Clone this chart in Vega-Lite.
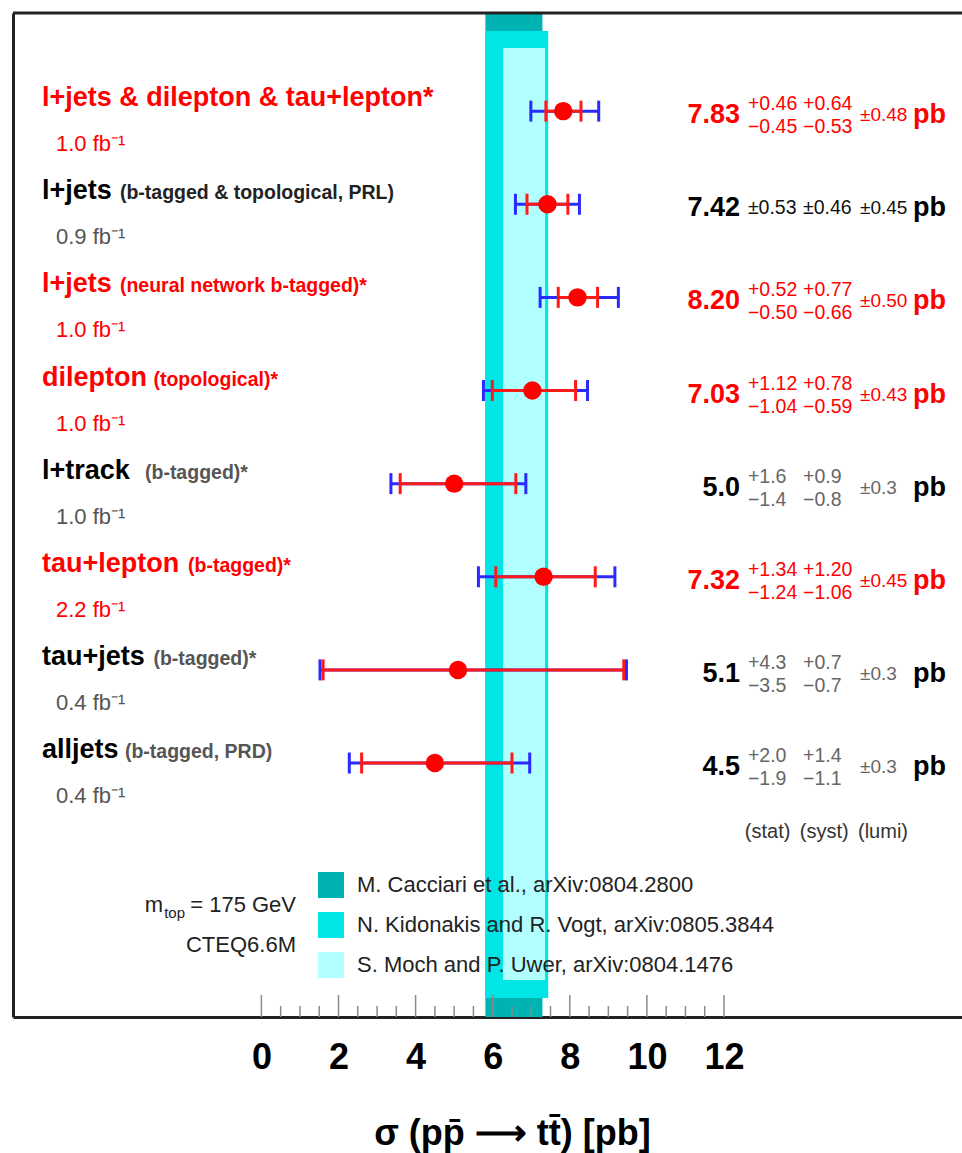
{
  "$schema": "https://vega.github.io/schema/vega-lite/v6.json",
  "width": 949,
  "height": 1004,
  "autosize": {"type": "none"},
  "padding": {"left": 13, "top": 13, "right": 0, "bottom": 136},
  "background": "white",
  "config": {
    "view": {"stroke": null},
    "font": "Liberation Sans",
    "axis": {"grid": false},
    "axisX": {"ticks": false, "tickSize": 0, "domain": true, "domainColor": "#222", "domainWidth": 3,
      "labelFont": "Liberation Sans", "labelFontWeight": "bold", "labelFontSize": 36, "labelColor": "#000", "labelBaseline": "alphabetic", "labelPadding": 51,
      "titleFont": "Liberation Sans", "titleFontWeight": "bold", "titleFontSize": 36, "titleColor": "#000",
      "titleX": 499, "titleY": 127, "titleBaseline": "alphabetic", "titleAlign": "center", "titleAnchor": "start"},
    "axisY": {"labels": false, "ticks": false, "tickSize": 0, "domain": true, "domainColor": "#222", "domainWidth": 3, "titleOpacity": 0}
  },
  "datasets": {
    "rows": [
      {"idx": 1, "hl": "yes", "label": "l+jets & dilepton & tau+lepton*", "detail": "", "lumi": "1.0 fb⁻¹", "val": "7.83", "s_up": "+0.46", "s_dn": "−0.45", "y_up": "+0.64", "y_dn": "−0.53", "s_sym": "", "y_sym": "", "l_err": "±0.48", "sigma": 7.83, "stat_lo": 7.38, "stat_hi": 8.29, "tot_lo": 6.99, "tot_hi": 8.75},
      {"idx": 2, "hl": "no", "label": "l+jets", "detail": "(b-tagged & topological, PRL)", "lumi": "0.9 fb⁻¹", "val": "7.42", "s_up": "", "s_dn": "", "y_up": "", "y_dn": "", "s_sym": "±0.53", "y_sym": "±0.46", "l_err": "±0.45", "sigma": 7.42, "stat_lo": 6.89, "stat_hi": 7.95, "tot_lo": 6.59, "tot_hi": 8.25},
      {"idx": 3, "hl": "yes", "label": "l+jets", "detail": "(neural network b-tagged)*", "lumi": "1.0 fb⁻¹", "val": "8.20", "s_up": "+0.52", "s_dn": "−0.50", "y_up": "+0.77", "y_dn": "−0.66", "s_sym": "", "y_sym": "", "l_err": "±0.50", "sigma": 8.2, "stat_lo": 7.7, "stat_hi": 8.72, "tot_lo": 7.23, "tot_hi": 9.26},
      {"idx": 4, "hl": "yes", "label": "dilepton", "detail": "(topological)*", "lumi": "1.0 fb⁻¹", "val": "7.03", "s_up": "+1.12", "s_dn": "−1.04", "y_up": "+0.78", "y_dn": "−0.59", "s_sym": "", "y_sym": "", "l_err": "±0.43", "sigma": 7.03, "stat_lo": 5.99, "stat_hi": 8.15, "tot_lo": 5.76, "tot_hi": 8.46},
      {"idx": 5, "hl": "no", "label": "l+track", "detail": "(b-tagged)*", "lumi": "1.0 fb⁻¹", "val": "5.0", "s_up": "+1.6", "s_dn": "−1.4", "y_up": "+0.9", "y_dn": "−0.8", "s_sym": "", "y_sym": "", "l_err": "±0.3", "sigma": 5.0, "stat_lo": 3.6, "stat_hi": 6.6, "tot_lo": 3.36, "tot_hi": 6.86},
      {"idx": 6, "hl": "yes", "label": "tau+lepton", "detail": "(b-tagged)*", "lumi": "2.2 fb⁻¹", "val": "7.32", "s_up": "+1.34", "s_dn": "−1.24", "y_up": "+1.20", "y_dn": "−1.06", "s_sym": "", "y_sym": "", "l_err": "±0.45", "sigma": 7.32, "stat_lo": 6.08, "stat_hi": 8.66, "tot_lo": 5.63, "tot_hi": 9.17},
      {"idx": 7, "hl": "no", "label": "tau+jets", "detail": "(b-tagged)*", "lumi": "0.4 fb⁻¹", "val": "5.1", "s_up": "+4.3", "s_dn": "−3.5", "y_up": "+0.7", "y_dn": "−0.7", "s_sym": "", "y_sym": "", "l_err": "±0.3", "sigma": 5.1, "stat_lo": 1.6, "stat_hi": 9.4, "tot_lo": 1.52, "tot_hi": 9.47},
      {"idx": 8, "hl": "no", "label": "alljets", "detail": "(b-tagged, PRD)", "lumi": "0.4 fb⁻¹", "val": "4.5", "s_up": "+2.0", "s_dn": "−1.9", "y_up": "+1.4", "y_dn": "−1.1", "s_sym": "", "y_sym": "", "l_err": "±0.3", "sigma": 4.5, "stat_lo": 2.6, "stat_hi": 6.5, "tot_lo": 2.28, "tot_hi": 6.96}
    ],
    "theory": [
      {"theory": "M. Cacciari et al., arXiv:0804.2800", "lo": 5.81, "hi": 7.29},
      {"theory": "N. Kidonakis and R. Vogt, arXiv:0805.3844", "lo": 5.81, "hi": 7.44},
      {"theory": "S. Moch and P. Uwer, arXiv:0804.1476", "lo": 6.27, "hi": 7.36}
    ],
    "ticks": [
      {"v": 0, "kind": "major"}, {"v": 0.5, "kind": "minor"}, {"v": 1, "kind": "minor"}, {"v": 1.5, "kind": "minor"},
      {"v": 2, "kind": "major"}, {"v": 2.5, "kind": "minor"}, {"v": 3, "kind": "minor"}, {"v": 3.5, "kind": "minor"},
      {"v": 4, "kind": "major"}, {"v": 4.5, "kind": "minor"}, {"v": 5, "kind": "minor"}, {"v": 5.5, "kind": "minor"},
      {"v": 6, "kind": "major"}, {"v": 6.5, "kind": "minor"}, {"v": 7, "kind": "minor"}, {"v": 7.5, "kind": "minor"},
      {"v": 8, "kind": "major"}, {"v": 8.5, "kind": "minor"}, {"v": 9, "kind": "minor"}, {"v": 9.5, "kind": "minor"},
      {"v": 10, "kind": "major"}, {"v": 10.5, "kind": "minor"}, {"v": 11, "kind": "minor"}, {"v": 11.5, "kind": "minor"},
      {"v": 12, "kind": "major"}
    ]
  },
  "layer": [
    {
      "data": {"name": "theory"},
      "transform": [{"filter": "datum.theory == 'M. Cacciari et al., arXiv:0804.2800'"}],
      "mark": {"type": "rect"},
      "encoding": {
        "x": {"field": "lo", "type": "quantitative",
          "scale": {"domain": [-6.4436, 18.174], "nice": false, "zero": false},
          "axis": {"values": [0, 2, 4, 6, 8, 10, 12], "title": "σ (pp̄ ⟶ tt̄) [pb]"}},
        "x2": {"field": "hi"},
        "y": {"datum": -0.0537, "type": "quantitative",
          "scale": {"domain": [-0.0537, 10.727], "reverse": true, "nice": false, "zero": false},
          "axis": {"title": ""}},
        "y2": {"datum": 10.727},
        "color": {"field": "theory", "type": "nominal",
          "scale": {"domain": ["M. Cacciari et al., arXiv:0804.2800", "N. Kidonakis and R. Vogt, arXiv:0805.3844", "S. Moch and P. Uwer, arXiv:0804.1476"], "range": ["#00b3b3", "#00e5e5", "#b2ffff"]},
          "legend": {"orient": "none", "legendX": 305, "legendY": 859, "title": null, "symbolType": "square", "symbolSize": 676, "symbolStrokeWidth": 0, "symbolOpacity": 1,
            "labelFont": "Liberation Sans", "labelFontSize": 22, "labelColor": "#222", "labelOffset": 13, "rowPadding": 14, "labelLimit": 700, "padding": 0}}
      }
    },
    {
      "data": {"name": "theory"},
      "transform": [{"filter": "datum.theory == 'N. Kidonakis and R. Vogt, arXiv:0805.3844'"}],
      "mark": {"type": "rect"},
      "encoding": {
        "x": {"field": "lo", "type": "quantitative"},
        "x2": {"field": "hi"},
        "y": {"datum": 0.1396, "type": "quantitative"},
        "y2": {"datum": 10.523},
        "color": {"field": "theory", "type": "nominal"}
      }
    },
    {
      "data": {"name": "theory"},
      "transform": [{"filter": "datum.theory == 'S. Moch and P. Uwer, arXiv:0804.1476'"}],
      "mark": {"type": "rect"},
      "encoding": {
        "x": {"field": "lo", "type": "quantitative"},
        "x2": {"field": "hi"},
        "y": {"datum": 0.3221, "type": "quantitative"},
        "y2": {"datum": 10.33},
        "color": {"field": "theory", "type": "nominal"}
      }
    },
    {
      "data": {"name": "ticks"},
      "transform": [{"filter": "datum.kind == 'major'"}],
      "mark": {"type": "rule", "color": "#8a8a8a", "strokeWidth": 1.5},
      "encoding": {
        "x": {"field": "v", "type": "quantitative"},
        "y": {"datum": 10.727, "type": "quantitative"},
        "y2": {"datum": 10.491}
      }
    },
    {
      "data": {"name": "ticks"},
      "transform": [{"filter": "datum.kind == 'minor'"}],
      "mark": {"type": "rule", "color": "#8a8a8a", "strokeWidth": 1.5},
      "encoding": {
        "x": {"field": "v", "type": "quantitative"},
        "y": {"datum": 10.727, "type": "quantitative"},
        "y2": {"datum": 10.609}
      }
    },
    {
      "data": {"values": [{"edge": "top"}]},
      "mark": {"type": "rule", "color": "#222", "strokeWidth": 3},
      "encoding": {
        "x": {"datum": -6.4436, "type": "quantitative"},
        "x2": {"datum": 18.174},
        "y": {"datum": -0.0537, "type": "quantitative"}
      }
    },
    {
      "data": {"name": "rows"},
      "mark": {"type": "rule", "color": "#2a2aff", "strokeWidth": 3},
      "encoding": {
        "x": {"field": "tot_lo", "type": "quantitative"},
        "x2": {"field": "tot_hi"},
        "y": {"field": "idx", "type": "quantitative"}
      }
    },
    {
      "data": {"name": "rows"},
      "transform": [{"fold": ["tot_lo", "tot_hi"], "as": ["end", "xv"]}],
      "mark": {"type": "tick", "orient": "vertical", "color": "#2a2aff", "size": 21, "thickness": 3, "opacity": 1},
      "encoding": {
        "x": {"field": "xv", "type": "quantitative"},
        "y": {"field": "idx", "type": "quantitative"}
      }
    },
    {
      "data": {"name": "rows"},
      "mark": {"type": "rule", "color": "#ff1a1a", "strokeWidth": 3},
      "encoding": {
        "x": {"field": "stat_lo", "type": "quantitative"},
        "x2": {"field": "stat_hi"},
        "y": {"field": "idx", "type": "quantitative"}
      }
    },
    {
      "data": {"name": "rows"},
      "transform": [{"fold": ["stat_lo", "stat_hi"], "as": ["end", "xv"]}],
      "mark": {"type": "tick", "orient": "vertical", "color": "#ff1a1a", "size": 21, "thickness": 3, "opacity": 1},
      "encoding": {
        "x": {"field": "xv", "type": "quantitative"},
        "y": {"field": "idx", "type": "quantitative"}
      }
    },
    {
      "data": {"name": "rows"},
      "mark": {"type": "point", "shape": "circle", "filled": true, "size": 340, "color": "#ff0000", "opacity": 1},
      "encoding": {
        "x": {"field": "sigma", "type": "quantitative"},
        "y": {"field": "idx", "type": "quantitative"}
      }
    },
    {
      "data": {"name": "rows"},
      "encoding": {
        "y": {"field": "idx", "type": "quantitative"}
      },
      "layer": [
        {
          "mark": {"type": "text", "font": "Liberation Sans", "fontWeight": "bold", "fontSize": 27, "align": "left", "baseline": "alphabetic", "dy": -5},
          "encoding": {
            "x": {"datum": -5.691, "type": "quantitative"},
            "text": {"field": "label"},
            "fill": {"condition": {"test": "datum.hl == 'yes'", "value": "#ff0000"}, "value": "#000000"}
          }
        },
        {
          "mark": {"type": "text", "font": "Liberation Sans", "fontSize": 22, "align": "left", "baseline": "alphabetic", "dy": 40},
          "encoding": {
            "x": {"datum": -5.328, "type": "quantitative"},
            "text": {"field": "lumi"},
            "fill": {"condition": {"test": "datum.hl == 'yes'", "value": "#ff0000"}, "value": "#555555"}
          }
        },
        {
          "transform": [{"filter": {"field": "idx", "oneOf": [2, 3]}}],
          "mark": {"type": "text", "font": "Liberation Sans", "fontWeight": "bold", "fontSize": 19.5, "align": "left", "baseline": "alphabetic", "dy": -5},
          "encoding": {
            "x": {"datum": -3.67, "type": "quantitative"},
            "text": {"field": "detail"},
            "fill": {"condition": [{"test": "datum.hl == 'yes'", "value": "#ff0000"}, {"test": "datum.idx == 2", "value": "#222222"}], "value": "#555555"}
          }
        },
        {
          "transform": [{"filter": {"field": "idx", "oneOf": [8]}}],
          "mark": {"type": "text", "font": "Liberation Sans", "fontWeight": "bold", "fontSize": 19.5, "align": "left", "baseline": "alphabetic", "dy": -5},
          "encoding": {
            "x": {"datum": -3.54, "type": "quantitative"},
            "text": {"field": "detail"},
            "fill": {"condition": {"test": "datum.hl == 'yes'", "value": "#ff0000"}, "value": "#555555"}
          }
        },
        {
          "transform": [{"filter": {"field": "idx", "oneOf": [4, 7]}}],
          "mark": {"type": "text", "font": "Liberation Sans", "fontWeight": "bold", "fontSize": 19.5, "align": "left", "baseline": "alphabetic", "dy": -5},
          "encoding": {
            "x": {"datum": -2.8, "type": "quantitative"},
            "text": {"field": "detail"},
            "fill": {"condition": {"test": "datum.hl == 'yes'", "value": "#ff0000"}, "value": "#555555"}
          }
        },
        {
          "transform": [{"filter": {"field": "idx", "oneOf": [5]}}],
          "mark": {"type": "text", "font": "Liberation Sans", "fontWeight": "bold", "fontSize": 19.5, "align": "left", "baseline": "alphabetic", "dy": -5},
          "encoding": {
            "x": {"datum": -3.02, "type": "quantitative"},
            "text": {"field": "detail"},
            "fill": {"condition": {"test": "datum.hl == 'yes'", "value": "#ff0000"}, "value": "#555555"}
          }
        },
        {
          "transform": [{"filter": {"field": "idx", "oneOf": [6]}}],
          "mark": {"type": "text", "font": "Liberation Sans", "fontWeight": "bold", "fontSize": 19.5, "align": "left", "baseline": "alphabetic", "dy": -5},
          "encoding": {
            "x": {"datum": -1.904, "type": "quantitative"},
            "text": {"field": "detail"},
            "fill": {"condition": {"test": "datum.hl == 'yes'", "value": "#ff0000"}, "value": "#555555"}
          }
        },
        {
          "mark": {"type": "text", "font": "Liberation Sans", "fontWeight": "bold", "fontSize": 27, "align": "right", "baseline": "alphabetic", "dy": 12},
          "encoding": {
            "x": {"datum": 12.415, "type": "quantitative"},
            "text": {"field": "val"},
            "fill": {"condition": {"test": "datum.hl == 'yes'", "value": "#ff0000"}, "value": "#000000"}
          }
        },
        {
          "mark": {"type": "text", "font": "Liberation Sans", "fontSize": 19.5, "align": "left", "baseline": "alphabetic", "dy": -1},
          "encoding": {
            "x": {"datum": 12.62, "type": "quantitative"},
            "text": {"field": "s_up"},
            "fill": {"condition": {"test": "datum.hl == 'yes'", "value": "#ff0000"}, "value": "#666666"}
          }
        },
        {
          "mark": {"type": "text", "font": "Liberation Sans", "fontSize": 19.5, "align": "left", "baseline": "alphabetic", "dy": 22},
          "encoding": {
            "x": {"datum": 12.62, "type": "quantitative"},
            "text": {"field": "s_dn"},
            "fill": {"condition": {"test": "datum.hl == 'yes'", "value": "#ff0000"}, "value": "#666666"}
          }
        },
        {
          "mark": {"type": "text", "font": "Liberation Sans", "fontSize": 19.5, "align": "left", "baseline": "alphabetic", "dy": -1},
          "encoding": {
            "x": {"datum": 14.05, "type": "quantitative"},
            "text": {"field": "y_up"},
            "fill": {"condition": {"test": "datum.hl == 'yes'", "value": "#ff0000"}, "value": "#666666"}
          }
        },
        {
          "mark": {"type": "text", "font": "Liberation Sans", "fontSize": 19.5, "align": "left", "baseline": "alphabetic", "dy": 22},
          "encoding": {
            "x": {"datum": 14.05, "type": "quantitative"},
            "text": {"field": "y_dn"},
            "fill": {"condition": {"test": "datum.hl == 'yes'", "value": "#ff0000"}, "value": "#666666"}
          }
        },
        {
          "mark": {"type": "text", "font": "Liberation Sans", "fontSize": 19.5, "align": "left", "baseline": "alphabetic", "dy": 10},
          "encoding": {
            "x": {"datum": 12.62, "type": "quantitative"},
            "text": {"field": "s_sym"},
            "fill": {"value": "#111111"}
          }
        },
        {
          "mark": {"type": "text", "font": "Liberation Sans", "fontSize": 19.5, "align": "left", "baseline": "alphabetic", "dy": 10},
          "encoding": {
            "x": {"datum": 14.05, "type": "quantitative"},
            "text": {"field": "y_sym"},
            "fill": {"value": "#111111"}
          }
        },
        {
          "mark": {"type": "text", "font": "Liberation Sans", "fontSize": 19, "align": "left", "baseline": "alphabetic", "dy": 10},
          "encoding": {
            "x": {"datum": 15.528, "type": "quantitative"},
            "text": {"field": "l_err"},
            "fill": {"condition": [{"test": "datum.hl == 'yes'", "value": "#ff0000"}, {"test": "datum.idx == 2", "value": "#111111"}], "value": "#666666"}
          }
        },
        {
          "mark": {"type": "text", "font": "Liberation Sans", "fontWeight": "bold", "fontSize": 27, "align": "right", "baseline": "alphabetic", "dy": 12},
          "encoding": {
            "x": {"datum": 17.758, "type": "quantitative"},
            "text": {"value": "pb"},
            "fill": {"condition": {"test": "datum.hl == 'yes'", "value": "#ff0000"}, "value": "#000000"}
          }
        }
      ]
    },
    {
      "data": {"values": [{"note": "columns"}]},
      "encoding": {"y": {"datum": 8.805, "type": "quantitative"}},
      "layer": [
        {"mark": {"type": "text", "font": "Liberation Sans", "fontSize": 20, "align": "left", "baseline": "alphabetic", "color": "#333"},
          "encoding": {"x": {"datum": 12.54, "type": "quantitative"}, "text": {"value": "(stat)"}}},
        {"mark": {"type": "text", "font": "Liberation Sans", "fontSize": 20, "align": "left", "baseline": "alphabetic", "color": "#333"},
          "encoding": {"x": {"datum": 13.966, "type": "quantitative"}, "text": {"value": "(syst)"}}},
        {"mark": {"type": "text", "font": "Liberation Sans", "fontSize": 20, "align": "left", "baseline": "alphabetic", "color": "#333"},
          "encoding": {"x": {"datum": 15.476, "type": "quantitative"}, "text": {"value": "(lumi)"}}}
      ]
    },
    {
      "data": {"values": [{"note": "settings"}]},
      "layer": [
        {"mark": {"type": "text", "font": "Liberation Sans", "fontSize": 22, "align": "right", "baseline": "alphabetic", "color": "#222"},
          "encoding": {"x": {"datum": -2.553, "type": "quantitative"}, "y": {"datum": 9.599, "type": "quantitative"}, "text": {"value": "m"}}},
        {"mark": {"type": "text", "font": "Liberation Sans", "fontSize": 15, "align": "right", "baseline": "alphabetic", "color": "#222", "dy": 6},
          "encoding": {"x": {"datum": -1.982, "type": "quantitative"}, "y": {"datum": 9.599, "type": "quantitative"}, "text": {"value": "top"}}},
        {"mark": {"type": "text", "font": "Liberation Sans", "fontSize": 22, "align": "right", "baseline": "alphabetic", "color": "#222"},
          "encoding": {"x": {"datum": 0.898, "type": "quantitative"}, "y": {"datum": 9.599, "type": "quantitative"}, "text": {"value": "= 175 GeV"}}},
        {"mark": {"type": "text", "font": "Liberation Sans", "fontSize": 22, "align": "right", "baseline": "alphabetic", "color": "#222"},
          "encoding": {"x": {"datum": 0.898, "type": "quantitative"}, "y": {"datum": 10.029, "type": "quantitative"}, "text": {"value": "CTEQ6.6M"}}}
      ]
    }
  ]
}
